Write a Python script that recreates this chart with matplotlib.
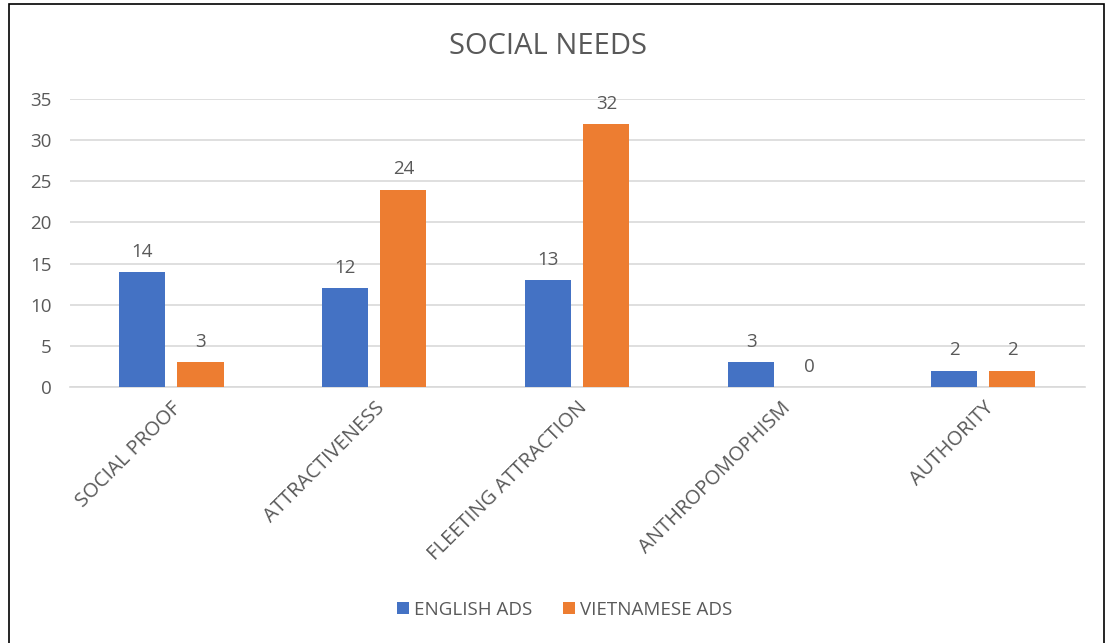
import numpy as np
import matplotlib
matplotlib.use('Agg')
from matplotlib import pyplot as plt
from matplotlib.patches import Rectangle

plt.rcParams['font.family'] = ['Open Sans', 'DejaVu Sans']

categories = ['SOCIAL PROOF', 'ATTRACTIVENESS', 'FLEETING ATTRACTION', 'ANTHROPOMOPHISM', 'AUTHORITY']
english_ads = [14, 12, 13, 3, 2]
vietnamese_ads = [3, 24, 32, 0, 2]

BLUE = '#4472C4'
ORANGE = '#ED7D31'
TEXT = '#595959'
GRID = '#D9D9D9'

fig = plt.figure(figsize=(11.07, 6.43), dpi=100)
ax = fig.add_axes([0.0632, 0.3981, 0.9168, 0.4479])

x = np.arange(len(categories))
w = 0.227
off = 0.143
b1 = ax.bar(x - off, english_ads, w, color=BLUE, label='ENGLISH ADS', zorder=3)
b2 = ax.bar(x + off, vietnamese_ads, w, color=ORANGE, label='VIETNAMESE ADS', zorder=3)

for bars in (b1, b2):
    for rect in bars:
        h = rect.get_height()
        ax.annotate(str(int(h)), (rect.get_x() + rect.get_width() / 2, h),
                    xytext=(0, 8), textcoords='offset points',
                    ha='center', va='bottom', fontsize=13.5, color=TEXT)

ax.set_xlim(-0.5, len(categories) - 0.5)
ax.set_ylim(0, 35)
ax.set_yticks(range(0, 36, 5))
ax.yaxis.grid(True, color=GRID, linewidth=1.2, zorder=0)
ax.set_axisbelow(True)
for s in ['top', 'right', 'left']:
    ax.spines[s].set_visible(False)
ax.spines['bottom'].set_color(GRID)
ax.spines['bottom'].set_linewidth(1.2)
ax.tick_params(axis='both', length=0, colors=TEXT, labelsize=13.5)
ax.tick_params(axis='y', pad=13)
ax.set_xticks(x)
ax.set_xticklabels(categories, rotation=45, ha='right', rotation_mode='anchor', fontsize=14.5)
ax.tick_params(axis='x', pad=8)

fig.text(0.495, 0.928, 'SOCIAL NEEDS', ha='center', va='center', fontsize=21, color=TEXT)

fig.legend(handles=[b1, b2], loc='center', bbox_to_anchor=(0.51, 0.052), ncol=2,
           frameon=False, fontsize=13.5, labelcolor=TEXT, handlelength=0.65,
           handleheight=0.65, handletextpad=0.3, columnspacing=1.6)

fig.patches.append(Rectangle((0.008, -0.01), 0.989, 1.004, transform=fig.transFigure,
                             fill=False, edgecolor='black', linewidth=1.2))

fig.savefig('out.png', dpi=100)
